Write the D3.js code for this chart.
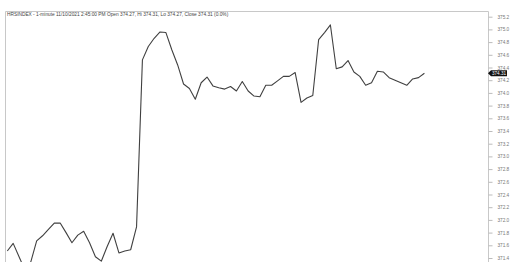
<!DOCTYPE html>
<html><head><meta charset="utf-8">
<script src="https://cdn.jsdelivr.net/npm/d3@7"></script>
<style>html,body{margin:0;padding:0;background:#fff;overflow:hidden}</style>
</head><body>
<script>
const titleText = "HRSINDEX - 1-minute 11/10/2021 2:45:00 PM Open 374.27, Hi 374.31, Lo 374.27, Close 374.31 (0.0%)";
const closes = [371.51,371.63,371.42,371.21,371.34,371.67,371.75,371.85,371.95,371.95,
371.80,371.64,371.76,371.82,371.64,371.42,371.35,371.58,371.79,371.48,
371.51,371.53,371.89,374.52,374.73,374.86,374.96,374.95,374.68,374.44,
374.14,374.07,373.90,374.16,374.25,374.11,374.08,374.06,374.10,374.03,
374.18,374.03,373.95,373.94,374.12,374.12,374.19,374.26,374.26,374.32,
373.85,373.92,373.96,374.84,374.95,375.07,374.38,374.41,374.51,374.33,
374.26,374.12,374.16,374.34,374.33,374.24,374.20,374.16,374.12,374.22,
374.24,374.31];
const yTicks = [371.4,371.6,371.8,372.0,372.2,372.4,372.6,372.8,373.0,373.2,373.4,373.6,373.8,374.0,374.2,374.4,374.6,374.8,375.0,375.2];
const lastPrice = 374.31;

const W = 511, H = 262;
const svg = d3.select("body").append("svg").attr("width", W).attr("height", H)
  .style("font-family", "'Liberation Sans', Arial, sans-serif");

const plotL = 5, plotR = 488, plotT = 11;
const x = d3.scaleLinear().domain([0, closes.length - 1]).range([7.3, 424.4]);
const y = d3.scaleLinear().domain([371.4, 375.2]).range([258, 16.7]);

svg.append("defs").append("clipPath").attr("id", "clip")
  .append("rect").attr("x", plotL).attr("y", plotT).attr("width", plotR - plotL).attr("height", H - plotT);

// frame
svg.append("path")
  .attr("d", `M${plotL + 0.5},${H} V${plotT + 0.5} H${plotR + 0.5} V${H}`)
  .attr("fill", "none").attr("stroke", "#c8c8c8").attr("stroke-width", 1);

// right axis
const axis = d3.axisRight(y).tickValues(yTicks).tickSize(4).tickPadding(5)
  .tickFormat(d3.format(".1f"));
const ag = svg.append("g").attr("transform", `translate(${plotR + 0.5},0)`).call(axis);
ag.select(".domain").remove();
ag.selectAll(".tick line").attr("stroke", "#bbb");
ag.selectAll(".tick text").attr("fill", "#777").attr("font-size", 4.7);

// line
const line = d3.line().x((d, i) => x(i)).y(d => y(d));
svg.append("path").datum(closes).attr("clip-path", "url(#clip)")
  .attr("d", line).attr("fill", "none").attr("stroke", "#404040")
  .attr("stroke-width", 1.1).attr("stroke-linejoin", "round");

// price marker
const py = y(lastPrice);
svg.append("path")
  .attr("d", `M${plotR},${py} L${plotR + 3},${py - 3} H${plotR + 19} V${py + 3} H${plotR + 3} Z`)
  .attr("fill", "#111");
svg.append("text").attr("x", plotR + 11).attr("y", py + 1.7)
  .attr("text-anchor", "middle").attr("fill", "#fff").attr("font-size", 4.6)
  .text(lastPrice.toFixed(2));

// title
svg.append("text").attr("x", 7).attr("y", 16).attr("fill", "#444")
  .attr("font-size", 4.8).text(titleText);
</script>
</body></html>
